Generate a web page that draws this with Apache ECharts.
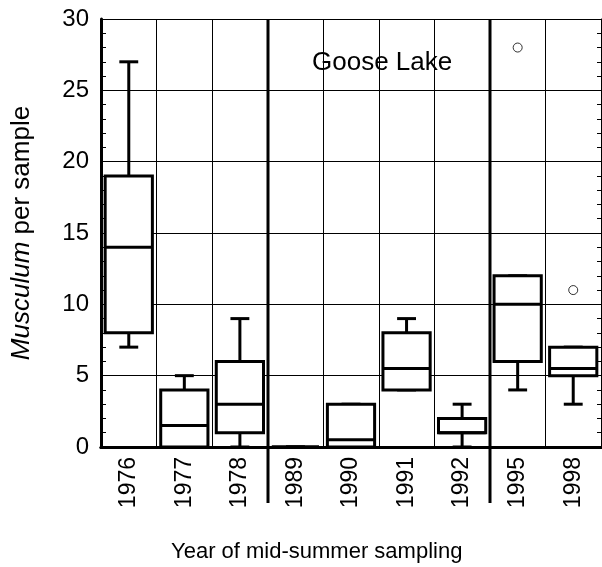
<!DOCTYPE html>
<html>
<head>
<meta charset="utf-8">
<script src="https://cdn.jsdelivr.net/npm/echarts@6/dist/echarts.min.js"></script>
<style>
html, body { margin: 0; padding: 0; background: #fff; }
#chart { width: 602px; height: 567px; }
</style>
</head>
<body>
<div id="chart"></div>
<script>
// Goose Lake, Musculum per sample, box summaries per year
const years = ['1976', '1977', '1978', '1989', '1990', '1991', '1992', '1995', '1998'];
const lowWhisker  = [7,  0,   0, 0, 0,   4,   0, 4,  3];
const q1          = [8,  0,   1, 0, 0,   4,   1, 6,  5];
const median      = [14, 1.5, 3, 0, 0.5, 5.5, 1, 10, 5.5];
const q3          = [19, 4,   6, 0, 3,   8,   2, 12, 7];
const highWhisker = [27, 5,   9, 0, 3,   9,   3, 12, 7];
const outliers = [['1995', 28], ['1998', 11]];
// thick separators after these years
const groupEnds = ['1978', '1992'];

const FONT = 'Liberation Sans';

const boxData = years.map(function (y, i) {
    return [i, lowWhisker[i], q1[i], median[i], q3[i], highWhisker[i]];
});

function renderBox(params, api) {
    const i = api.value(0);
    const band = api.size([1, 0])[0];
    const half = band * 0.425;
    const cap = band * 0.17;
    const pLow = api.coord([i, api.value(1)]);
    const pQ1 = api.coord([i, api.value(2)]);
    const pMed = api.coord([i, api.value(3)]);
    const pQ3 = api.coord([i, api.value(4)]);
    const pHigh = api.coord([i, api.value(5)]);
    const x = pMed[0];
    const st = { stroke: '#000', lineWidth: 3, fill: null };
    const line = function (x1, y1, x2, y2) {
        return { type: 'line', shape: { x1: x1, y1: y1, x2: x2, y2: y2 }, style: st };
    };
    return {
        type: 'group',
        children: [
            line(x, pLow[1], x, pQ1[1]),
            line(x - cap, pLow[1], x + cap, pLow[1]),
            line(x, pQ3[1], x, pHigh[1]),
            line(x - cap, pHigh[1], x + cap, pHigh[1]),
            {
                type: 'rect',
                shape: { x: x - half, y: pQ3[1], width: half * 2, height: pQ1[1] - pQ3[1] },
                style: { stroke: '#000', lineWidth: 3, fill: '#fff' }
            },
            line(x - half, pMed[1], x + half, pMed[1])
        ]
    };
}

const chart = echarts.init(document.getElementById('chart'));

const option = {
    backgroundColor: '#fff',
    animation: false,
    textStyle: { fontFamily: FONT, color: '#000' },
    title: [
        {
            text: 'Goose Lake',
            left: 312, top: 50, padding: 0,
            textStyle: { fontFamily: FONT, fontSize: 26, fontWeight: 'normal', color: '#000' }
        },
        {
            text: 'Year of mid-summer sampling',
            left: 171, top: 541, padding: 0,
            textStyle: { fontFamily: FONT, fontSize: 22, fontWeight: 'normal', color: '#000' }
        }
    ],
    grid: { left: 101, right: 1, top: 19, bottom: 120 },
    xAxis: [
        {
            type: 'category',
            data: years,
            position: 'bottom',
            boundaryGap: true,
            axisLine: { lineStyle: { color: '#000', width: 3 } },
            axisTick: { inside: true, alignWithLabel: true, length: 5, lineStyle: { color: '#000', width: 1 } },
            axisLabel: { rotate: 90, fontSize: 23, fontFamily: FONT, color: '#000', margin: 10 },
            splitLine: { show: true, lineStyle: { color: '#000', width: 1 } }
        },
        {
            type: 'category',
            data: years,
            position: 'top',
            boundaryGap: true,
            axisLine: { lineStyle: { color: '#000', width: 3 } },
            axisTick: { inside: true, alignWithLabel: true, length: 5, lineStyle: { color: '#000', width: 1 } },
            axisLabel: { show: false },
            splitLine: { show: false }
        }
    ],
    yAxis: [
        {
            type: 'value',
            min: 0, max: 30, interval: 5,
            name: '{i|Musculum} per sample',
            nameLocation: 'middle',
            nameRotate: 90,
            nameGap: 66,
            nameTextStyle: {
                fontFamily: FONT, fontSize: 26, color: '#000',
                rich: { i: { fontFamily: FONT, fontSize: 26, fontStyle: 'italic', color: '#000' } }
            },
            axisLine: { show: true, lineStyle: { color: '#000', width: 3 } },
            axisTick: { inside: true, length: 6, lineStyle: { color: '#000', width: 1 } },
            minorTick: { show: true, splitNumber: 5, length: 5, lineStyle: { color: '#000', width: 1 } },
            axisLabel: { fontSize: 24, fontFamily: FONT, color: '#000', margin: 12 },
            splitLine: { show: true, lineStyle: { color: '#000', width: 1 } }
        },
        {
            type: 'value',
            position: 'right',
            min: 0, max: 30, interval: 5,
            axisLine: { show: true, lineStyle: { color: '#000', width: 1 } },
            axisTick: { show: true, inside: true, length: 6, lineStyle: { color: '#000', width: 1 } },
            minorTick: { show: true, splitNumber: 5, length: 4, lineStyle: { color: '#000', width: 1 } },
            axisLabel: { show: false },
            splitLine: { show: false }
        }
    ],
    series: [
        {
            type: 'custom',
            name: 'box',
            renderItem: renderBox,
            encode: { x: 0, y: [1, 2, 3, 4, 5] },
            data: boxData,
            z: 5
        },
        {
            type: 'scatter',
            name: 'outliers',
            data: outliers,
            symbol: 'circle',
            symbolSize: 9,
            itemStyle: { color: '#fff', borderColor: '#000', borderWidth: 1 },
            z: 6
        }
    ]
};

chart.setOption(option);

// thick group separators, positioned from the axis scale
const yTop = chart.convertToPixel({ yAxisIndex: 0 }, 30);
const yBottom = chart.convertToPixel({ yAxisIndex: 0 }, 0);
const seps = groupEnds.map(function (yr) {
    const i = years.indexOf(yr);
    const a = chart.convertToPixel({ xAxisIndex: 0 }, years[i]);
    const b = chart.convertToPixel({ xAxisIndex: 0 }, years[i + 1]);
    const x = Math.round((a + b) / 2);
    return {
        type: 'line',
        shape: { x1: x, y1: yTop, x2: x, y2: yBottom + 56 },
        style: { stroke: '#000', lineWidth: 3 },
        z: 10
    };
});
chart.setOption({ graphic: seps });
</script>
</body>
</html>
